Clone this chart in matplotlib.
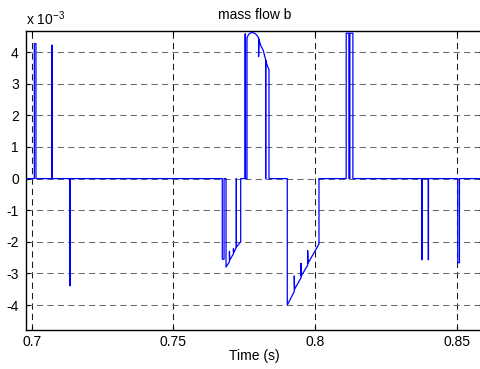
import numpy as np
import matplotlib
matplotlib.use("Agg")
import matplotlib.pyplot as plt

plt.rcParams['font.family'] = ['Liberation Sans', 'DejaVu Sans']
plt.rcParams['axes.unicode_minus'] = False

# trace of mass flow b (time in s, value in 1e-3 units)
t_pulses = [0.6979,
            0.70093, 0.70093, 0.7015, 0.7015,
            0.70710, 0.70710, 0.70722, 0.70722,
            0.71348, 0.71348, 0.71356, 0.71356]
v_pulses = [0,
            0, 4.27, 4.27, 0,
            0, 4.22, 4.22, 0,
            0, -3.39, -3.39, 0]

t_dip1 = [0.76728, 0.76728, 0.76790, 0.76790, 0.76860, 0.76860,
          0.76980, 0.76980, 0.76990, 0.77120, 0.77120, 0.77130,
          0.77224, 0.77224, 0.77224, 0.77377, 0.77377]
v_dip1 = [0, -2.55, -2.55, 0, 0, -2.80,
          -2.63, -2.30, -2.58, -2.38, -2.22, -2.35,
          -2.17, 0, -2.17, -2.00, 0]

t_hump = [0.77529, 0.77529, 0.77545, 0.77545, 0.77600, 0.77600,
          0.7765, 0.7772, 0.7781, 0.7790, 0.7796, 0.7801, 0.7801,
          0.7802, 0.7808, 0.78175, 0.7826, 0.7826, 0.7826, 0.7830,
          0.7834, 0.78376, 0.78376]
v_hump = [0, 4.58, 4.58, 0, 0, 4.45,
          4.55, 4.61, 4.62, 4.58, 4.52, 4.45, 3.86,
          4.42, 4.22, 4.05, 3.75, 0, 3.74, 3.62,
          3.52, 3.45, 0]

t_dip2 = [0.79022, 0.79022, 0.79269, 0.79269, 0.79280, 0.79506, 0.79506,
          0.79517, 0.79742, 0.79742, 0.79753, 0.80141, 0.80141]
v_dip2 = [0, -4.0, -3.57, -3.08, -3.50, -3.14, -2.68,
          -3.08, -2.74, -2.28, -2.68, -2.07, 0]

t_tail = [0.81102, 0.81102, 0.81197, 0.81197, 0.81232, 0.81232, 0.81338, 0.81338,
          0.83779, 0.83779, 0.83785, 0.83785,
          0.84000, 0.84000, 0.84006, 0.84006,
          0.85040, 0.85040, 0.85100, 0.85100, 0.8595]
v_tail = [0, 4.6, 4.6, 0, 0, 4.6, 4.6, 0,
          0, -2.57, -2.57, 0,
          0, -2.57, -2.57, 0,
          0, -2.66, -2.66, 0, 0]

xticks = [0.7, 0.75, 0.8, 0.85]
xlabels = ['0.7', '0.75', '0.8', '0.85']
yticks = [-4, -3, -2, -1, 0, 1, 2, 3, 4]

t = np.array(t_pulses + t_dip1 + t_hump + t_dip2 + t_tail)
v = np.array(v_pulses + v_dip1 + v_hump + v_dip2 + v_tail)

fig = plt.figure(figsize=(4.81, 3.69), dpi=100)
ax = fig.add_axes([25.7 / 481, 1 - 330 / 369, (483 - 25.7) / 481, (330 - 31.3) / 369])

ax.plot(t, v, color='#0000ff', lw=0.9, zorder=3)

ax.set_xlim(0.69788, 0.85931)
ax.set_ylim(-4.79, 4.66)
ax.set_xticks(xticks)
ax.set_xticklabels(xlabels)
ax.set_yticks(yticks)
ax.set_yticklabels([str(y) for y in yticks])

ax.tick_params(direction='in', length=3, width=0.8, top=True, right=True,
               labelsize=10, colors='black')
ax.tick_params(axis='y', pad=5)
ax.xaxis.grid(True, color='#1a1a1a', linestyle=(0, (6, 4)), lw=0.75)
ax.yaxis.grid(True, color='#6a6a6a', linestyle=(0, (6, 4)), lw=0.75)
for s in ax.spines.values():
    s.set_linewidth(1.0)
ax.spines['right'].set_visible(False)

ax.set_title('mass flow b', fontsize=10, pad=9)
ax.set_xlabel('Time (s)', fontsize=10, labelpad=0)
ax.text(0.0, 1.012, r'x 10$^{\mathregular{-3}}$', transform=ax.transAxes,
        ha='left', va='bottom', fontsize=10)

fig.savefig('out.png', dpi=100)
